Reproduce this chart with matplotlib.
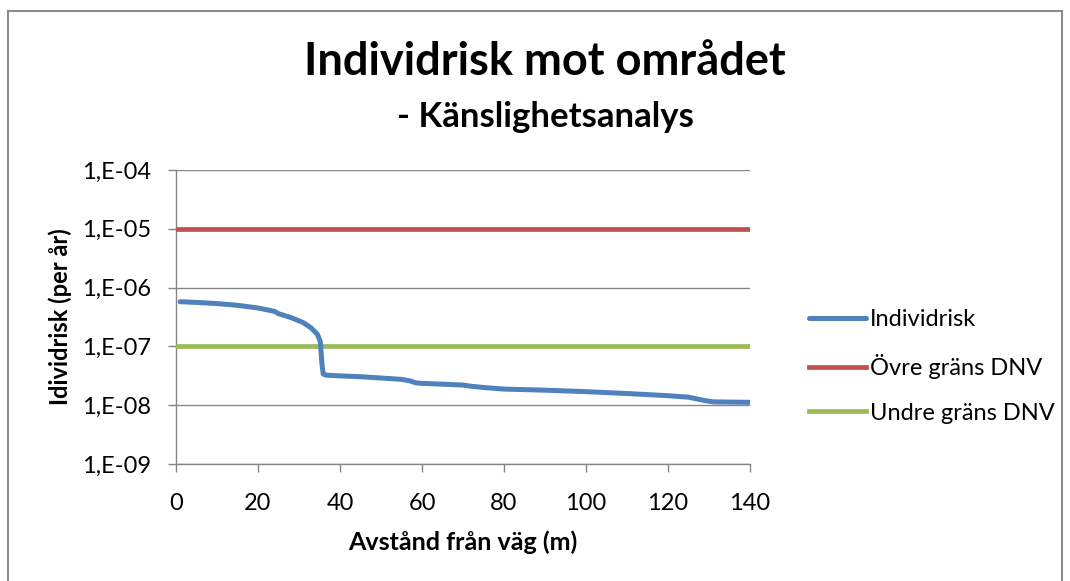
import matplotlib
matplotlib.use("Agg")
import matplotlib.pyplot as plt
from matplotlib.patches import Rectangle
from matplotlib.ticker import FixedLocator, FixedFormatter

plt.rcParams['font.family'] = ['Lato', 'DejaVu Sans']

# Data
dist = [1, 5, 10, 15, 20, 24, 25, 28, 31, 33, 34.5, 35.2, 35.6, 35.9, 36.5, 40, 45, 50, 55,
        57, 58.5, 60, 65, 70, 72, 75, 80, 90, 100, 110, 120, 125, 127, 129, 131, 135, 140]
risk = [5.75e-7, 5.6e-7, 5.35e-7, 5.0e-7, 4.5e-7, 3.95e-7, 3.6e-7, 3.1e-7, 2.55e-7, 2.05e-7,
        1.6e-7, 1.2e-7, 5e-8, 3.4e-8, 3.25e-8, 3.15e-8, 3.05e-8, 2.9e-8, 2.75e-8,
        2.6e-8, 2.4e-8, 2.35e-8, 2.28e-8, 2.2e-8, 2.1e-8, 2.0e-8, 1.88e-8, 1.8e-8, 1.7e-8,
        1.58e-8, 1.45e-8, 1.37e-8, 1.28e-8, 1.2e-8, 1.14e-8, 1.13e-8, 1.12e-8]
upper_x = [0, 140]
upper_y = [1e-5, 1e-5]
lower_x = [0, 140]
lower_y = [1e-7, 1e-7]
yticks = [1e-9, 1e-8, 1e-7, 1e-6, 1e-5, 1e-4]
ytick_labels = ['1,E-09', '1,E-08', '1,E-07', '1,E-06', '1,E-05', '1,E-04']
xticks = [0, 20, 40, 60, 80, 100, 120, 140]

fig = plt.figure(figsize=(10.7, 5.81), dpi=100)
fig.patches.append(Rectangle((8/1070, -0.05), (1062-8)/1070, 1.05 - 11/581,
                             transform=fig.transFigure, fill=False,
                             edgecolor='#8c8c8c', linewidth=1.5))

ax = fig.add_axes([176/1070, 1 - 464/581, (750-176)/1070, (464-170)/581])
ax.set_yscale('log')
ax.set_xlim(0, 140)
ax.set_ylim(1e-9, 1e-4)

ax.plot(dist, risk, color='#4F81BD', lw=3.6, solid_capstyle='round', label='Individrisk', zorder=4)
ax.plot(upper_x, upper_y, color='#C0504D', lw=3.4, label='Övre gräns DNV', zorder=3)
ax.plot(lower_x, lower_y, color='#9BBB59', lw=3.4, label='Undre gräns DNV', zorder=3)

ax.yaxis.set_major_locator(FixedLocator(yticks))
ax.yaxis.set_major_formatter(FixedFormatter(ytick_labels))
ax.yaxis.set_minor_locator(FixedLocator([]))
ax.set_xticks(xticks)
ax.grid(axis='y', color='#868686', linewidth=1)
ax.set_axisbelow(True)
for s in ['top', 'right']:
    ax.spines[s].set_visible(False)
for s in ['left', 'bottom']:
    ax.spines[s].set_color('#868686')
    ax.spines[s].set_linewidth(1)
ax.tick_params(axis='both', colors='#868686', labelcolor='black', labelsize=17,
               length=6, width=1)
ax.tick_params(axis='y', pad=12)
ax.tick_params(axis='x', pad=15)

ax.set_xlabel('Avstånd från väg (m)', fontsize=18, fontweight='bold', labelpad=12)
ax.set_ylabel('Idividrisk (per år)', fontsize=17, fontweight='bold', va='center')
ax.yaxis.set_label_coords((60 - 176) / 574, 0.5)

fig.text(545/1070, 1 - 62/581, 'Individrisk mot området', ha='center', va='center',
         fontsize=32.5, fontweight='bold')
fig.text(545/1070, 1 - 117/581, '- Känslighetsanalys', ha='center', va='center',
         fontsize=25, fontweight='bold')

leg = fig.legend(loc='upper left', bbox_to_anchor=(800/1070, 1 - 300/581), frameon=False,
                 fontsize=17, handlelength=2.4, handletextpad=0.15, labelspacing=1.0,
                 borderaxespad=0)

fig.savefig('out.png', dpi=100)
